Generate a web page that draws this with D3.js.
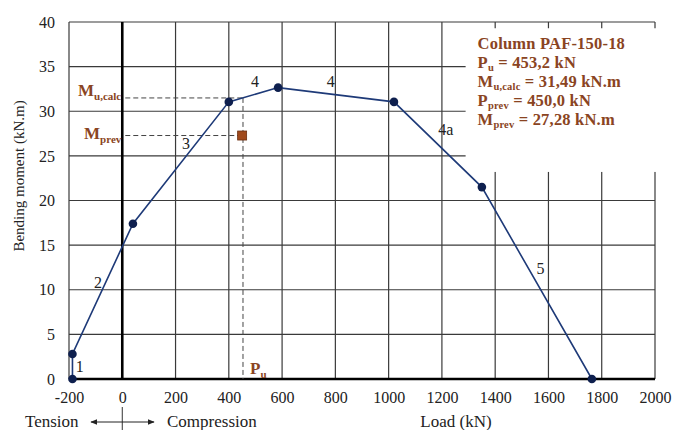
<!DOCTYPE html>
<html>
<head>
<meta charset="utf-8">
<script src="https://cdn.jsdelivr.net/npm/d3@7"></script>
<style>
  body { margin: 0; background: #fff; }
  svg text { font-family: "Liberation Serif", "Times New Roman", Times, serif; }
</style>
</head>
<body>
<div id="chart"></div>
<script>
// interaction diagram data (load kN, moment kN.m)
const loads   = [-187, -187, 40, 400, 585, 1020, 1350, 1763];
const moments = [0, 2.8, 17.4, 31.05, 32.65, 31.05, 21.5, 0];

// segment labels: text, load, moment
const segLabels = ["1", "2", "3", "4", "4", "4a", "5"];
const segLabelX = [-160, -91, 239, 498, 783, 1215, 1570];
const segLabelY = [0.8, 10.2, 25.8, 32.7, 32.7, 27.3, 11.8];

// experiment vs calculation
const Pu = 453.2, MuCalc = 31.49;
const Pprev = 450.0, Mprev = 27.28;

const xTicks = [-200, 0, 200, 400, 600, 800, 1000, 1200, 1400, 1600, 1800, 2000];
const yTicks = [0, 5, 10, 15, 20, 25, 30, 35, 40];

const infoLines = [
    [["Column PAF-150-18", ""]],
    [["P", ""], ["u", "sub"], [" = 453,2 kN", ""]],
    [["M", ""], ["u,calc", "sub"], [" = 31,49 kN.m", ""]],
    [["P", ""], ["prev", "sub"], [" = 450,0 kN", ""]],
    [["M", ""], ["prev", "sub"], [" = 27,28 kN.m", ""]]
];

const brown = "#8a4422";
const navy = "#1e3a78";

const W = 675, H = 430;
const margin = { top: 22, right: 20, bottom: 51, left: 69 };
const width = 655 - margin.left;
const height = 379 - margin.top;

const svg = d3.select("#chart").append("svg")
    .attr("width", W)
    .attr("height", H);

const g = svg.append("g")
    .attr("transform", `translate(${margin.left},${margin.top})`);

const x = d3.scaleLinear().domain([-200, 2000]).range([0, width]);
const y = d3.scaleLinear().domain([0, 40]).range([height, 0]);

// grid
g.append("g").selectAll("line")
    .data(xTicks)
    .join("line")
    .attr("x1", d => x(d)).attr("x2", d => x(d))
    .attr("y1", 0).attr("y2", height)
    .attr("stroke", "#3a3a3a").attr("stroke-width", 1.2);

g.append("g").selectAll("line")
    .data(yTicks)
    .join("line")
    .attr("x1", 0).attr("x2", width)
    .attr("y1", d => y(d)).attr("y2", d => y(d))
    .attr("stroke", "#3a3a3a").attr("stroke-width", 1.2);

// white box behind info text
g.append("rect")
    .attr("x", x(1289))
    .attr("y", y(39.3))
    .attr("width", width - x(1289) + 12)
    .attr("height", y(23.2) - y(39.3))
    .attr("fill", "#fff");

// main axes (thick)
g.append("line")
    .attr("x1", 0).attr("x2", width)
    .attr("y1", y(0)).attr("y2", y(0))
    .attr("stroke", "#000").attr("stroke-width", 2.6);
g.append("line")
    .attr("x1", x(0)).attr("x2", x(0))
    .attr("y1", 0).attr("y2", height)
    .attr("stroke", "#000").attr("stroke-width", 2.6);

// tick labels
const xAxis = d3.axisBottom(x).tickValues(xTicks).tickFormat(d => String(d)).tickSize(0).tickPadding(13);
g.append("g")
    .attr("transform", `translate(0,${height})`)
    .call(xAxis)
    .call(s => s.select(".domain").remove())
    .selectAll("text")
    .attr("font-size", 16)
    .attr("fill", "#222")
    .style("font-family", "'Liberation Serif', serif");

const yAxis = d3.axisLeft(y).tickValues(yTicks).tickFormat(d => String(d)).tickSize(0).tickPadding(14);
g.append("g")
    .call(yAxis)
    .call(s => s.select(".domain").remove())
    .selectAll("text")
    .attr("font-size", 16)
    .attr("fill", "#222")
    .style("font-family", "'Liberation Serif', serif");

// dashed reference lines
const dash = "5,3";
g.append("line")
    .attr("x1", x(0) + 3).attr("x2", x(Pu))
    .attr("y1", y(MuCalc)).attr("y2", y(MuCalc))
    .attr("stroke", "#444").attr("stroke-width", 1).attr("stroke-dasharray", dash);
g.append("line")
    .attr("x1", x(0) + 3).attr("x2", x(Pprev))
    .attr("y1", y(Mprev)).attr("y2", y(Mprev))
    .attr("stroke", "#444").attr("stroke-width", 1).attr("stroke-dasharray", dash);
g.append("line")
    .attr("x1", x(Pu)).attr("x2", x(Pu))
    .attr("y1", y(MuCalc)).attr("y2", y(0))
    .attr("stroke", "#444").attr("stroke-width", 1).attr("stroke-dasharray", dash);

// interaction curve
const pts = loads.map((d, i) => [d, moments[i]]);
g.append("path")
    .datum(pts)
    .attr("fill", "none")
    .attr("stroke", navy)
    .attr("stroke-width", 1.6)
    .attr("d", d3.line().x(d => x(d[0])).y(d => y(d[1])));

g.append("g").selectAll("circle")
    .data(pts)
    .join("circle")
    .attr("cx", d => x(d[0]))
    .attr("cy", d => y(d[1]))
    .attr("r", 4.3)
    .attr("fill", "#0e1f4e");

// experimental point
g.append("rect")
    .attr("x", x(Pprev) - 4.5)
    .attr("y", y(Mprev) - 4.5)
    .attr("width", 9).attr("height", 9)
    .attr("fill", "#a04a1c")
    .attr("stroke", "#6b2e10").attr("stroke-width", 0.8);

// segment labels
g.append("g").selectAll("text")
    .data(segLabels)
    .join("text")
    .attr("x", (d, i) => x(segLabelX[i]))
    .attr("y", (d, i) => y(segLabelY[i]))
    .attr("text-anchor", "middle")
    .attr("font-size", 16)
    .attr("fill", "#222")
    .text(d => d);

// brown labels near axis
function subLabel(parent, xp, yp, main, sub, anchor) {
    const t = parent.append("text")
        .attr("x", xp).attr("y", yp)
        .attr("text-anchor", anchor)
        .attr("font-size", 17)
        .attr("font-weight", "bold")
        .attr("fill", brown);
    t.append("tspan").text(main);
    t.append("tspan").attr("font-size", 11).attr("dy", 4).text(sub);
    return t;
}
subLabel(g, x(0) - 1, y(MuCalc) - 2, "M", "u,calc", "end");
subLabel(g, x(0) - 1, y(Mprev) + 3, "M", "prev", "end");
subLabel(g, x(Pu) + 7, y(0) - 5, "P", "u", "start");

// info box text
const info = g.append("g");
infoLines.forEach((line, i) => {
    const t = info.append("text")
        .attr("x", x(1334))
        .attr("y", 27 + i * 19)
        .attr("font-size", 16.5)
        .attr("font-weight", "bold")
        .attr("letter-spacing", 0.2)
        .attr("fill", brown);
    line.forEach(part => {
        if (part[1] === "sub") {
            t.append("tspan").attr("font-size", 10.5).attr("dy", 3).text(part[0]);
        } else {
            const ts = t.append("tspan").text(part[0]);
            if (t.selectAll("tspan").size() > 1) ts.attr("dy", -3);
        }
    });
});

// axis titles
svg.append("text")
    .attr("transform", "translate(24,176) rotate(-90)")
    .attr("text-anchor", "middle")
    .attr("font-size", 15)
    .attr("fill", "#222")
    .text("Bending moment (kN.m)");

svg.append("text")
    .attr("x", 456)
    .attr("y", 427)
    .attr("text-anchor", "middle")
    .attr("font-size", 17)
    .attr("fill", "#222")
    .text("Load (kN)");

// tension / compression arrow below axis
const ax0 = margin.left + x(0);
svg.append("line")
    .attr("x1", ax0).attr("x2", ax0)
    .attr("y1", 407).attr("y2", H)
    .attr("stroke", "#333").attr("stroke-width", 1);

const defs = svg.append("defs");
defs.append("marker")
    .attr("id", "arr")
    .attr("viewBox", "0 0 10 10")
    .attr("refX", 9).attr("refY", 5)
    .attr("markerWidth", 7).attr("markerHeight", 7)
    .attr("orient", "auto-start-reverse")
    .append("path")
    .attr("d", "M0,1 L10,5 L0,9 z")
    .attr("fill", "#222");

svg.append("line")
    .attr("x1", 91).attr("x2", 154)
    .attr("y1", 422).attr("y2", 422)
    .attr("stroke", "#222").attr("stroke-width", 1)
    .attr("marker-start", "url(#arr)")
    .attr("marker-end", "url(#arr)");

svg.append("text")
    .attr("x", 25).attr("y", 427)
    .attr("font-size", 17).attr("fill", "#222")
    .text("Tension");
svg.append("text")
    .attr("x", 167).attr("y", 427)
    .attr("font-size", 17).attr("fill", "#222")
    .text("Compression");
</script>
</body>
</html>
